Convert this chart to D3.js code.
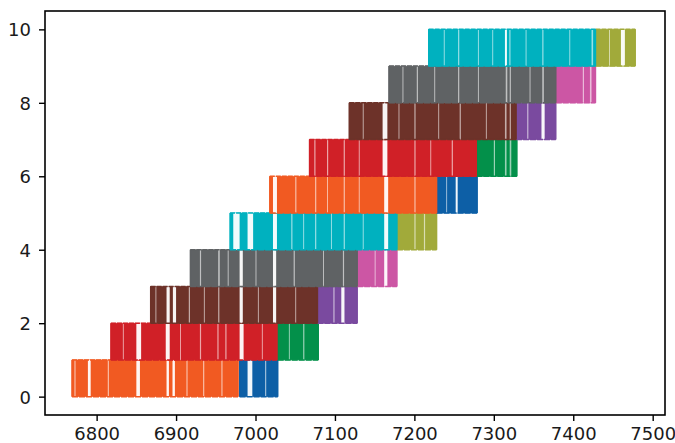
<!DOCTYPE html>
<html>
<head>
<meta charset="utf-8">
<script src="https://cdn.jsdelivr.net/npm/d3@7"></script>
<style>
  html, body { margin: 0; padding: 0; background: #fff; }
  svg { display: block; }
  text { font-family: "DejaVu Sans", sans-serif; }
</style>
</head>
<body>
<svg id="chart" width="675" height="443"></svg>
<script>
// ---------- data ----------
const xTicks = [6800, 6900, 7000, 7100, 7200, 7300, 7400, 7500];
const yTicks = [0, 2, 4, 6, 8, 10];

// series in plotting order (matplotlib colour cycle)
const seriesRow   = [0, 0, 1, 1, 2, 2, 3, 3, 4, 4, 5, 5, 6, 6, 7, 7, 8, 8, 9, 9];
const seriesStart = [6980, 6769, 7028, 6818, 7078, 6868, 7128, 6918, 7178, 6968,
                     7228, 7018, 7278, 7068, 7328, 7118, 7378, 7168, 7428, 7218];
const seriesEnd   = [7028, 6978, 7079, 7027, 7128, 7078, 7178, 7128, 7228, 7178,
                     7279, 7228, 7329, 7278, 7378, 7328, 7428, 7378, 7478, 7428];
const seriesGaps = [
  [[6990, 6996], [7012, 7013.5]],
  [[6772, 6773.5], [6789, 6792.5], [6814, 6815.5], [6850, 6854.5], [6888, 6891], [6895.5, 6898.5], [6913, 6914.5], [6934, 6935.5], [6957, 6958.5]],
  [[7042, 7043.2], [7060, 7061.5]],
  [[6833, 6834.2], [6850, 6856], [6887, 6892], [6905, 6906.2], [6930, 6931.5], [6952, 6953.5], [6962, 6963.5], [6980, 6985], [7008, 7009.2]],
  [[7098, 7099.5], [7108, 7112]],
  [[6874, 6875.2], [6888, 6892], [6896, 6900], [6916, 6917.5], [6935, 6936.2], [6953, 6954.5], [6980, 6984], [7003, 7004.2], [7022, 7026], [7050, 7051.2]],
  [[7150, 7151.2], [7162, 7166]],
  [[6930, 6931.5], [6953, 6955], [6965, 6966.2], [6980, 6984], [7000, 7001.2], [7022, 7026], [7048, 7049.5], [7085, 7086.2], [7110, 7111.5]],
  [[7200, 7201.5], [7212, 7213.5]],
  [[6972, 6980], [6990, 6997], [7022, 7027], [7045, 7046.5], [7060, 7061.2], [7075, 7076.5], [7095, 7096.2], [7111, 7112.5], [7135, 7136.2], [7162, 7167]],
  [[7240, 7241.2], [7252, 7254.5]],
  [[7022, 7027], [7050, 7051.5], [7075, 7076.5], [7090, 7091.2], [7111, 7112.5], [7130, 7131.2], [7162, 7167], [7200, 7201.5]],
  [[7300, 7301.5], [7314, 7316], [7320, 7322]],
  [[7074, 7075.5], [7090, 7091.5], [7111, 7112.5], [7130, 7131.2], [7160, 7166], [7200, 7201.5], [7220, 7221.2], [7247, 7248.5]],
  [[7342, 7343.5], [7360, 7364]],
  [[7135, 7136.2], [7160, 7166], [7180, 7181.2], [7200, 7201.5], [7230, 7231.2], [7257, 7258.5], [7290, 7291.2], [7314, 7316], [7320, 7321.5]],
  [[7412, 7413.5], [7421, 7423]],
  [[7185, 7186.2], [7203, 7204.5], [7225, 7226.2], [7255, 7256.5], [7280, 7281.2], [7315, 7317], [7320, 7321.5], [7345, 7346.2], [7361, 7363]],
  [[7445, 7446.2], [7460, 7465]],
  [[7237, 7238.2], [7255, 7256.5], [7280, 7281.2], [7298, 7299.2], [7314, 7316.5], [7319.5, 7321], [7340, 7341.2], [7361, 7362.5], [7395, 7396.2], [7423, 7425]]
];
const palette = ["#0d5fa6", "#f15a22", "#03904a", "#d02027", "#7a4a9f",
                 "#6d3229", "#cc56a4", "#5f6264", "#a1aa3a", "#00b1bf"];

// ---------- layout ----------
const W = 675, H = 443;
const plot = { left: 45, right: 665, top: 11, bottom: 415 };

const x = d3.scaleLinear().domain([6735, 7515.5]).range([plot.left, plot.right]);
const y = d3.scaleLinear().domain([-0.5, 10.5]).range([plot.bottom, plot.top]);

const svg = d3.select("#chart");
svg.append("rect").attr("width", W).attr("height", H).attr("fill", "#fff");

const g = svg.append("g");

seriesRow.forEach((row, i) => {
  const col = palette[i % palette.length];
  const sg = g.append("g");
  const x0 = x(seriesStart[i]), x1 = x(seriesEnd[i]);
  const yTop = y(row + 1), yBot = y(row);
  // the dense vertical strokes read as a filled band
  sg.append("rect")
    .attr("x", x0).attr("width", x1 - x0)
    .attr("y", yTop).attr("height", yBot - yTop)
    .attr("fill", col).attr("stroke", col).attr("stroke-width", 0.6);
  // places where the line rests on one level show as white streaks
  sg.selectAll("rect.gap").data(seriesGaps[i]).join("rect")
    .attr("class", "gap")
    .attr("x", d => x(d[0]))
    .attr("width", d => x(d[1]) - x(d[0]))
    .attr("y", yTop).attr("height", yBot - yTop)
    .attr("fill", "#fff")
    .attr("opacity", d => (d[1] - d[0]) >= 2.5 ? 0.95 : 0.6);
  // horizontal runs along the top and bottom levels
  [row, row + 1].forEach((lv, k) => {
    sg.append("line")
      .attr("x1", x0).attr("x2", x1)
      .attr("y1", y(lv)).attr("y2", y(lv))
      .attr("stroke", col).attr("stroke-width", 1.5)
      .attr("stroke-dasharray", k === 0 ? "6,1" : "5,1");
  });
  // left/right vertical edges
  [x0, x1].forEach(xx => {
    sg.append("line")
      .attr("x1", xx).attr("x2", xx).attr("y1", yTop).attr("y2", yBot)
      .attr("stroke", col).attr("stroke-width", 1.4);
  });
});

// ---------- axes ----------
const fontSize = 18;
const xAxis = d3.axisBottom(x).tickValues(xTicks).tickSize(6).tickPadding(4).tickFormat(d3.format("d"));
const yAxis = d3.axisLeft(y).tickValues(yTicks).tickSize(6).tickPadding(8).tickFormat(d3.format("d"));

const gx = svg.append("g").attr("transform", `translate(0,${plot.bottom})`).call(xAxis);
const gy = svg.append("g").attr("transform", `translate(${plot.left},0)`).call(yAxis);

[gx, gy].forEach(ax => {
  ax.select(".domain").remove();
  ax.selectAll(".tick line").attr("stroke", "#000").attr("stroke-width", 1.4);
  ax.selectAll(".tick text")
    .attr("fill", "#1a1a1a")
    .style("font-size", fontSize + "px");
});
gx.selectAll(".tick text").attr("dy", "0.82em");
gy.selectAll(".tick text").attr("dy", "0.36em");

// frame
svg.append("rect")
  .attr("x", plot.left).attr("y", plot.top)
  .attr("width", plot.right - plot.left).attr("height", plot.bottom - plot.top)
  .attr("fill", "none").attr("stroke", "#000").attr("stroke-width", 1.6);
</script>
</body>
</html>
